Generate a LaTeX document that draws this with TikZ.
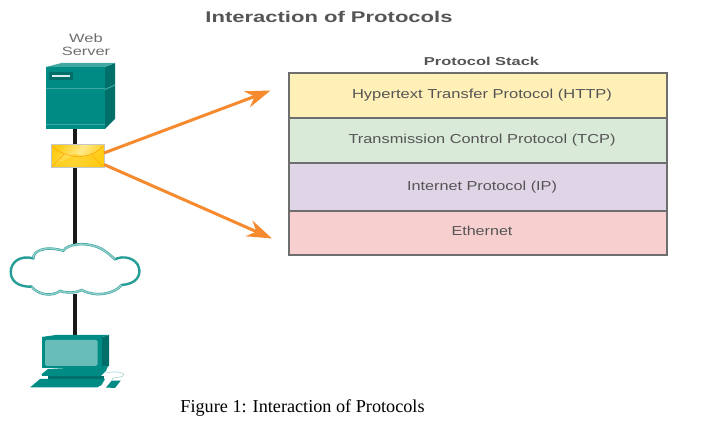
\documentclass[tikz,border=0pt]{standalone}
\usepackage{fontspec}
\setmainfont{Liberation Sans}
\newfontfamily\capfont{Liberation Serif}
\usetikzlibrary{arrows.meta}
\definecolor{tealmain}{HTML}{008C85}
\definecolor{tealdark}{HTML}{006F6A}
\definecolor{teallight}{HTML}{3FA8A2}
\definecolor{tealscreen}{HTML}{68BDB8}
\definecolor{stackgrey}{HTML}{6E6E6E}
\definecolor{labelgrey}{HTML}{555555}
\definecolor{arroworange}{HTML}{F58A2E}
\definecolor{goldmain}{HTML}{FFCC14}
\definecolor{goldpale}{HTML}{FFE98A}
\newcommand{\wide}[2]{\hspace*{8pt}\scalebox{#1}[1]{#2}}
\newcommand{\stretched}[2]{\scalebox{#1}[1]{#2}}
\tikzset{
  layer/.style={draw=stackgrey,line width=1.8pt,minimum width=378pt,inner sep=0pt,outer sep=0pt,text=labelgrey,font=\fontsize{13}{13}\selectfont},
  hop/.style={line width=3.2pt,black!90},
  flow/.style={draw=arroworange,line width=3pt,-{Stealth[length=25pt,width=17pt,inset=8pt]}},
  anchorbox/.style={inner sep=0pt,outer sep=0pt,minimum width=#1}
}
\begin{document}
\begin{tikzpicture}[x=1pt,y=-1pt]
\useasboundingbox (0,0) rectangle (705,435);
\fill[white] (0,0) rectangle (705,435);

% named anchors for icons
\node[anchorbox=58pt,minimum height=62pt] (server) at (75,98) {};
\node[anchorbox=53pt,minimum height=23pt] (envelope) at (77.5,156.5) {};
\node[anchorbox=130pt,minimum height=54pt] (cloud) at (75,270) {};
\node[anchorbox=67pt,minimum height=54pt] (pc) at (75,362) {};
\coordinate (s1) at (75,129);
\coordinate (e1) at (75,145);
\coordinate (e2) at (75,168);
\coordinate (c1) at (75,245);
\coordinate (c2) at (75,294);
\coordinate (p1) at (75,336);

% connectors
\draw[hop] (s1) -- (e1);
\draw[hop] (e2) -- (c1);
\draw[hop] (c2) -- (p1);

% server
\fill[tealdark] (105,67) -- (115,63) -- (115,119) -- (105,129) -- cycle;
\fill[teallight] (46,67) -- (61.5,63) -- (115,63) -- (105,67) -- cycle;
\fill[tealmain] (46,67) rectangle (105,129);
\fill[teallight] (46,88.5) rectangle (105,89.5);
\draw[teallight,line width=1pt] (105,89.5) -- (115,85);
\fill[teallight] (46,124) rectangle (105,125);
\fill[tealdark] (49,72) rectangle (73,80);
\fill[white!85!tealmain] (52,75) rectangle (70,77);

% cloud
\draw[tealmain!85!white,line width=2.4pt,fill=white]
  (10.7,271.7) .. controls (11,262) and (20,255) .. (33.3,258.3)
  .. controls (33,252) and (43,245) .. (63.3,250.7)
  .. controls (68,244) and (83,242) .. (96.7,246.7)
  .. controls (104,249) and (110,255) .. (115,259.3)
  .. controls (123,255) and (136.7,258) .. (139,268)
  .. controls (141,276) and (136,284) .. (121.7,285)
  .. controls (115,293.3) and (96.7,298) .. (81.7,290)
  .. controls (71.7,295) and (60,291) .. (60,291)
  .. controls (52,297) and (38,295) .. (31.7,286.7)
  .. controls (18,287) and (10.7,281) .. (10.7,271.7) -- cycle;
\draw[white,line width=1.4pt,opacity=.5]
  (33.3,258.3) .. controls (33,252) and (43,245) .. (63.3,250.7)
  .. controls (68,244) and (83,242) .. (96.7,246.7)
  .. controls (104,249) and (110,255) .. (115,259.3)
  (121.7,285) .. controls (115,293.3) and (96.7,298) .. (81.7,290)
  .. controls (71.7,295) and (60,291) .. (60,291)
  .. controls (52,297) and (38,295) .. (31.7,286.7);

% computer
\fill[tealdark] (102,337) -- (109,335) -- (109,366) -- (102,368) -- cycle;
\fill[tealmain] (41.5,337) -- (56,335) -- (109,335) -- (102,337) -- cycle;
\fill[tealmain] (41.5,337) rectangle (102,368);
\fill[tealscreen,rounded corners=1.5pt] (45,340) rectangle (97.5,366);
\fill[tealmain] (41.7,374) -- (48,369) -- (108,366) -- (106,371) -- (101,376) -- (42,376) -- cycle;
\fill[tealdark] (48,376) rectangle (104,379);
\fill[tealmain] (30,387.5) -- (40,379) -- (105,379) -- (101.5,385) -- (97,387.5) -- cycle;
\fill[tealmain] (106,387.5) -- (111.7,380.7) -- (120.7,380.7) -- (115,388) -- cycle;
\draw[tealscreen!60,line width=.6pt] (106,373) .. controls (118,370) and (127,374) .. (123,376) .. controls (119,378) and (110,377) .. (112,380.7);

% envelope
\fill[left color=goldmain,right color=goldmain,middle color=goldpale,shading angle=60] (51,145) rectangle (104,168);
\fill[goldmain,opacity=.75] (51,168) -- (75,154) .. controls (85,158) and (92,155) .. (104,147) -- (104,168) -- cycle;
\draw[orange!75!yellow,line width=.5pt] (52,146) .. controls (65,159) and (90,161) .. (103,146);
\draw[orange!75!yellow,line width=.4pt] (52,167) -- (64,154) (103,167) -- (92,155);
\draw[gray!45,line width=1pt] (51,145) rectangle (104,168);

% arrows
\coordinate (a1) at (270.5,90.5);
\coordinate (a2) at (272,238.5);
\draw[flow] (envelope.east |- 0,153) -- (a1);
\draw[flow] (envelope.east |- 0,164.5) -- (a2);

% stack
\node[layer,fill={rgb,255:red,255;green,240;blue,184},minimum height=45pt] (http) at (478,95.5) {\raisebox{3pt}{\wide{1.27}{Hypertext Transfer Protocol (HTTP)}}};
\node[layer,fill={rgb,255:red,218;green,234;blue,216},minimum height=45pt] (tcp) at (478,140.5) {\raisebox{3pt}{\wide{1.26}{Transmission Control Protocol (TCP)}}};
\node[layer,fill={rgb,255:red,224;green,213;blue,230},minimum height=48pt] (ip) at (478,187) {\raisebox{3pt}{\wide{1.25}{Internet Protocol (IP)}}};
\node[layer,fill={rgb,255:red,248;green,207;blue,207},minimum height=44pt] (eth) at (478,233) {\raisebox{4pt}{\wide{1.24}{Ethernet}}};

% labels
\node[font=\bfseries\fontsize{15.5}{15.5}\selectfont,text=labelgrey,inner sep=0pt] (title) at (329,17) {\stretched{1.42}{Interaction of Protocols}};
\node[font=\bfseries\fontsize{11.5}{11.5}\selectfont,text=labelgrey,inner sep=0pt] (stacktitle) at (481.5,61) {\stretched{1.43}{Protocol Stack}};
\node[font=\fontsize{12}{13}\selectfont,text=labelgrey!85,inner sep=0pt] (weblabel) at (86,38) {\stretched{1.37}{Web}};
\node[font=\fontsize{12}{13}\selectfont,text=labelgrey!85,inner sep=0pt] (serverlabel) at (86,51) {\stretched{1.37}{Server}};
\node[font=\capfont\fontsize{18.2}{18.2}\selectfont,text=black,inner sep=0pt] (caption) at (302.5,408) {Figure 1: Interaction of Protocols};
\end{tikzpicture}
\end{document}
